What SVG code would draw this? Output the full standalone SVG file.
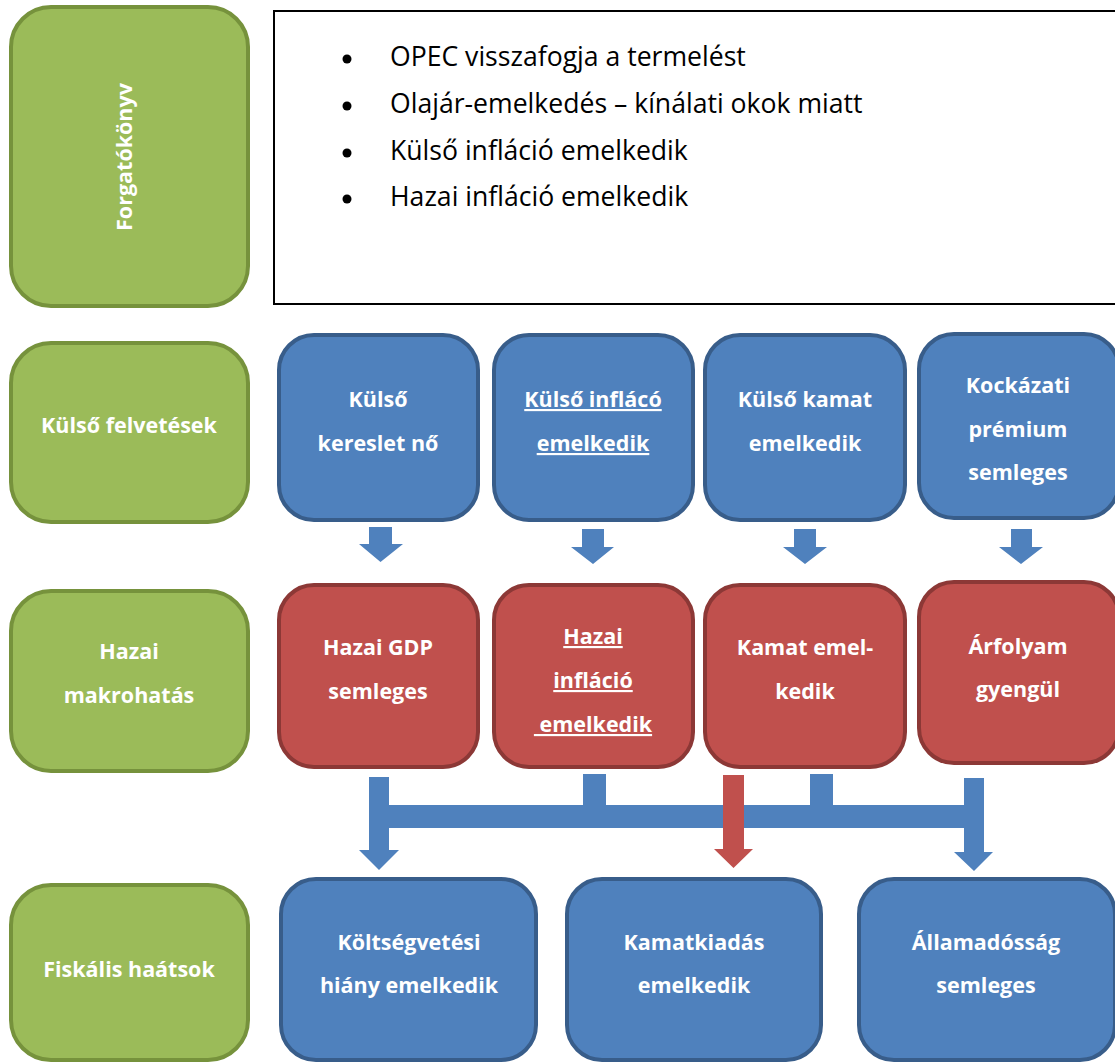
<svg xmlns="http://www.w3.org/2000/svg" width="1115" height="1063" viewBox="0 0 1115 1063">
<style>
.g{fill:#9BBB59;stroke:#76923C;stroke-width:4}
.b{fill:#4F81BD;stroke:#385D8A;stroke-width:4}
.r{fill:#C0504D;stroke:#8C3836;stroke-width:4}
.t{font-family:"Open Sans","Noto Sans","DejaVu Sans",sans-serif;font-weight:bold;font-size:21.5px;fill:#fff;text-anchor:middle}
.u{text-decoration:underline}
.bl{font-family:"Open Sans","Noto Sans","DejaVu Sans",sans-serif;font-size:26.6px;fill:#000}
.ca{fill:#4F81BD}
.cr{fill:#C0504D}
</style>
<rect width="1115" height="1063" fill="#fff"/>

<g id="forgatokonyv">
<rect class="g" x="11" y="7" width="237" height="299" rx="40"/>
<text class="t" transform="translate(132,157) rotate(-90)">Forgatókönyv</text>
</g>
<g id="scenario-text">
<rect x="274" y="11" width="850" height="293" fill="#fff" stroke="#000" stroke-width="2"/>
<circle cx="347" cy="59" r="4.5" fill="#000"/>
<circle cx="347" cy="106" r="4.5" fill="#000"/>
<circle cx="347" cy="153" r="4.5" fill="#000"/>
<circle cx="347" cy="199" r="4.5" fill="#000"/>
<text class="bl" x="390" y="66">OPEC visszafogja a termelést</text>
<text class="bl" x="390" y="113">Olajár-emelkedés – kínálati okok miatt</text>
<text class="bl" x="390" y="160">Külső infláció emelkedik</text>
<text class="bl" x="390" y="206">Hazai infláció emelkedik</text>
</g>

<g id="kulso-felvetesek">
<rect class="g" x="11" y="343" width="237" height="179" rx="40"/>
<text class="t" x="129" y="433">Külső felvetések</text>
</g>
<g id="kulso-kereslet">
<rect class="b" x="279" y="335" width="199" height="185" rx="35"/>
<text class="t" x="378" y="407">Külső</text>
<text class="t" x="378" y="451">kereslet nő</text>
</g>
<g id="kulso-inflacio">
<rect class="b" x="494" y="335" width="199" height="185" rx="35"/>
<text class="t u" x="593" y="407">Külső inflácó</text>
<text class="t u" x="593" y="451">emelkedik</text>
</g>
<g id="kulso-kamat">
<rect class="b" x="705" y="335" width="200" height="185" rx="35"/>
<text class="t" x="805" y="407">Külső kamat</text>
<text class="t" x="805" y="451">emelkedik</text>
</g>
<g id="kockazati-premium">
<rect class="b" x="919" y="334" width="200" height="184" rx="35"/>
<text class="t" x="1018" y="393">Kockázati</text>
<text class="t" x="1018" y="437">prémium</text>
<text class="t" x="1018" y="480">semleges</text>
</g>

<g id="hazai-makrohatas">
<rect class="g" x="11" y="591" width="237" height="180" rx="40"/>
<text class="t" x="129" y="659">Hazai</text>
<text class="t" x="129" y="703">makrohatás</text>
</g>
<g id="hazai-gdp">
<rect class="r" x="279" y="585" width="199" height="182" rx="35"/>
<text class="t" x="378" y="655">Hazai GDP</text>
<text class="t" x="378" y="699">semleges</text>
</g>
<g id="hazai-inflacio">
<rect class="r" x="494" y="585" width="199" height="182" rx="35"/>
<text class="t u" x="593" y="644">Hazai</text>
<text class="t u" x="593" y="688">infláció</text>
<text class="t u" x="593" y="732" xml:space="preserve"> emelkedik</text>
</g>
<g id="kamat-emelkedik">
<rect class="r" x="705" y="585" width="200" height="182" rx="35"/>
<text class="t" x="805" y="655">Kamat emel-</text>
<text class="t" x="805" y="699">kedik</text>
</g>
<g id="arfolyam">
<rect class="r" x="919" y="582" width="200" height="181" rx="35"/>
<text class="t" x="1018" y="654">Árfolyam</text>
<text class="t" x="1018" y="697">gyengül</text>
</g>

<g id="fiskalis-hatasok">
<rect class="g" x="11" y="885" width="237" height="175" rx="40"/>
<text class="t" x="129" y="977">Fiskális haátsok</text>
</g>
<g id="koltsegvetesi-hiany">
<rect class="b" x="281" y="879" width="255" height="181" rx="35"/>
<text class="t" x="409" y="950">Költségvetési</text>
<text class="t" x="409" y="993">hiány emelkedik</text>
</g>
<g id="kamatkiadas">
<rect class="b" x="567" y="879" width="254" height="181" rx="35"/>
<text class="t" x="694" y="950">Kamatkiadás</text>
<text class="t" x="694" y="993">emelkedik</text>
</g>
<g id="allamadossag">
<rect class="b" x="859" y="879" width="256" height="181" rx="35"/>
<text class="t" x="986" y="950">Államadósság</text>
<text class="t" x="986" y="993">semleges</text>
</g>

<g id="connectors">
<polygon class="ca" points="369,527 392,527 392,544 403,544 380.5,562 359,544 369,544"/>
<polygon class="ca" points="582,529 604,529 604,547 614,547 593,564 571,547 582,547"/>
<polygon class="ca" points="794,529 816,529 816,547 827,547 805,564 783,547 794,547"/>
<polygon class="ca" points="1011,529 1032,529 1032,547 1043,547 1021,564 999,547 1011,547"/>
<polygon class="ca" points="369,777 389,777 389,850 399,850 379,870 359,850 369,850"/>
<rect class="ca" x="389" y="805" width="577" height="23"/>
<rect class="ca" x="583" y="774" width="23" height="32"/>
<rect class="ca" x="810" y="774" width="23" height="32"/>
<polygon class="ca" points="964,778 984,778 984,852 993,852 974,871 954,852 964,852"/>
<polygon class="cr" points="723,775 744,775 744,849 753,849 733.5,868 714,849 723,849"/>
</g>
</svg>
